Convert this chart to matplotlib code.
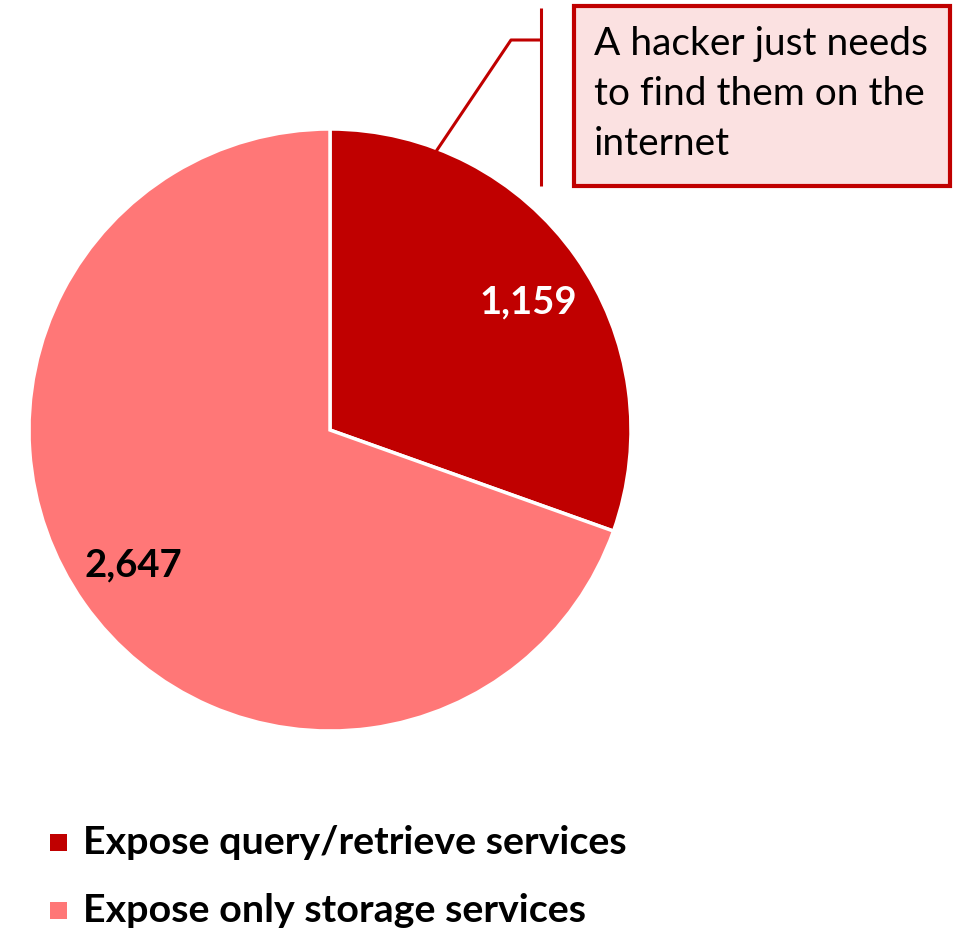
import matplotlib
matplotlib.use("Agg")
import matplotlib.pyplot as plt
from matplotlib.patches import Rectangle

categories = ["Expose query/retrieve services", "Expose only storage services"]
values = [1159, 2647]
value_labels = ["1,159", "2,647"]
colors = ["#C00000", "#FF7777"]
label_colors = ["white", "black"]
callout_text = "A hacker just needs\nto find them on the\ninternet"

W, H = 961, 930
fig = plt.figure(figsize=(W / 100, H / 100), dpi=100)
ax = fig.add_axes([0, 0, 1, 1])

FONT = "Lato"

def Y(y):
    return H - y

cx, cy, r = 330, Y(430), 301
wedges, _ = ax.pie(values, colors=colors, startangle=90, counterclock=False,
                   center=(cx, cy), radius=r, frame=True,
                   wedgeprops=dict(edgecolor="white", linewidth=2.5))
ax.set_xlim(0, W)
ax.set_ylim(0, H)
ax.set_aspect("equal")
ax.axis("off")

# value labels
label_pos = [(528, 302), (133, 565)]
for (x, y), t, c in zip(label_pos, value_labels, label_colors):
    ax.text(x, Y(y), t, color=c, fontsize=27.5, fontweight="bold", family=FONT,
            ha="center", va="center")

# callout bracket and leader
ax.plot([541, 541], [Y(8), Y(186)], color="#C00000", lw=2.2, solid_capstyle="butt")
ax.plot([541, 511, 437], [Y(40), Y(40), Y(150)], color="#C00000", lw=2.2)

# callout box
ax.add_patch(Rectangle((574, Y(186)), 376, 180, facecolor="#FBE1E1",
                       edgecolor="#C00000", lw=3, zorder=3))
ax.text(594, Y(26), callout_text, fontsize=28, family=FONT, color="black",
        ha="left", va="top", linespacing=1.48, zorder=4)

# legend
leg_y = [843, 910]
for yy, cat, col in zip(leg_y, categories, colors):
    ax.add_patch(Rectangle((50, Y(yy) - 8.5), 17, 17, facecolor=col, edgecolor="none"))
    ax.text(83, Y(yy), cat, fontsize=28.4, fontweight="bold", family=FONT,
            color="black", ha="left", va="center")

fig.savefig("out.png", dpi=100)
